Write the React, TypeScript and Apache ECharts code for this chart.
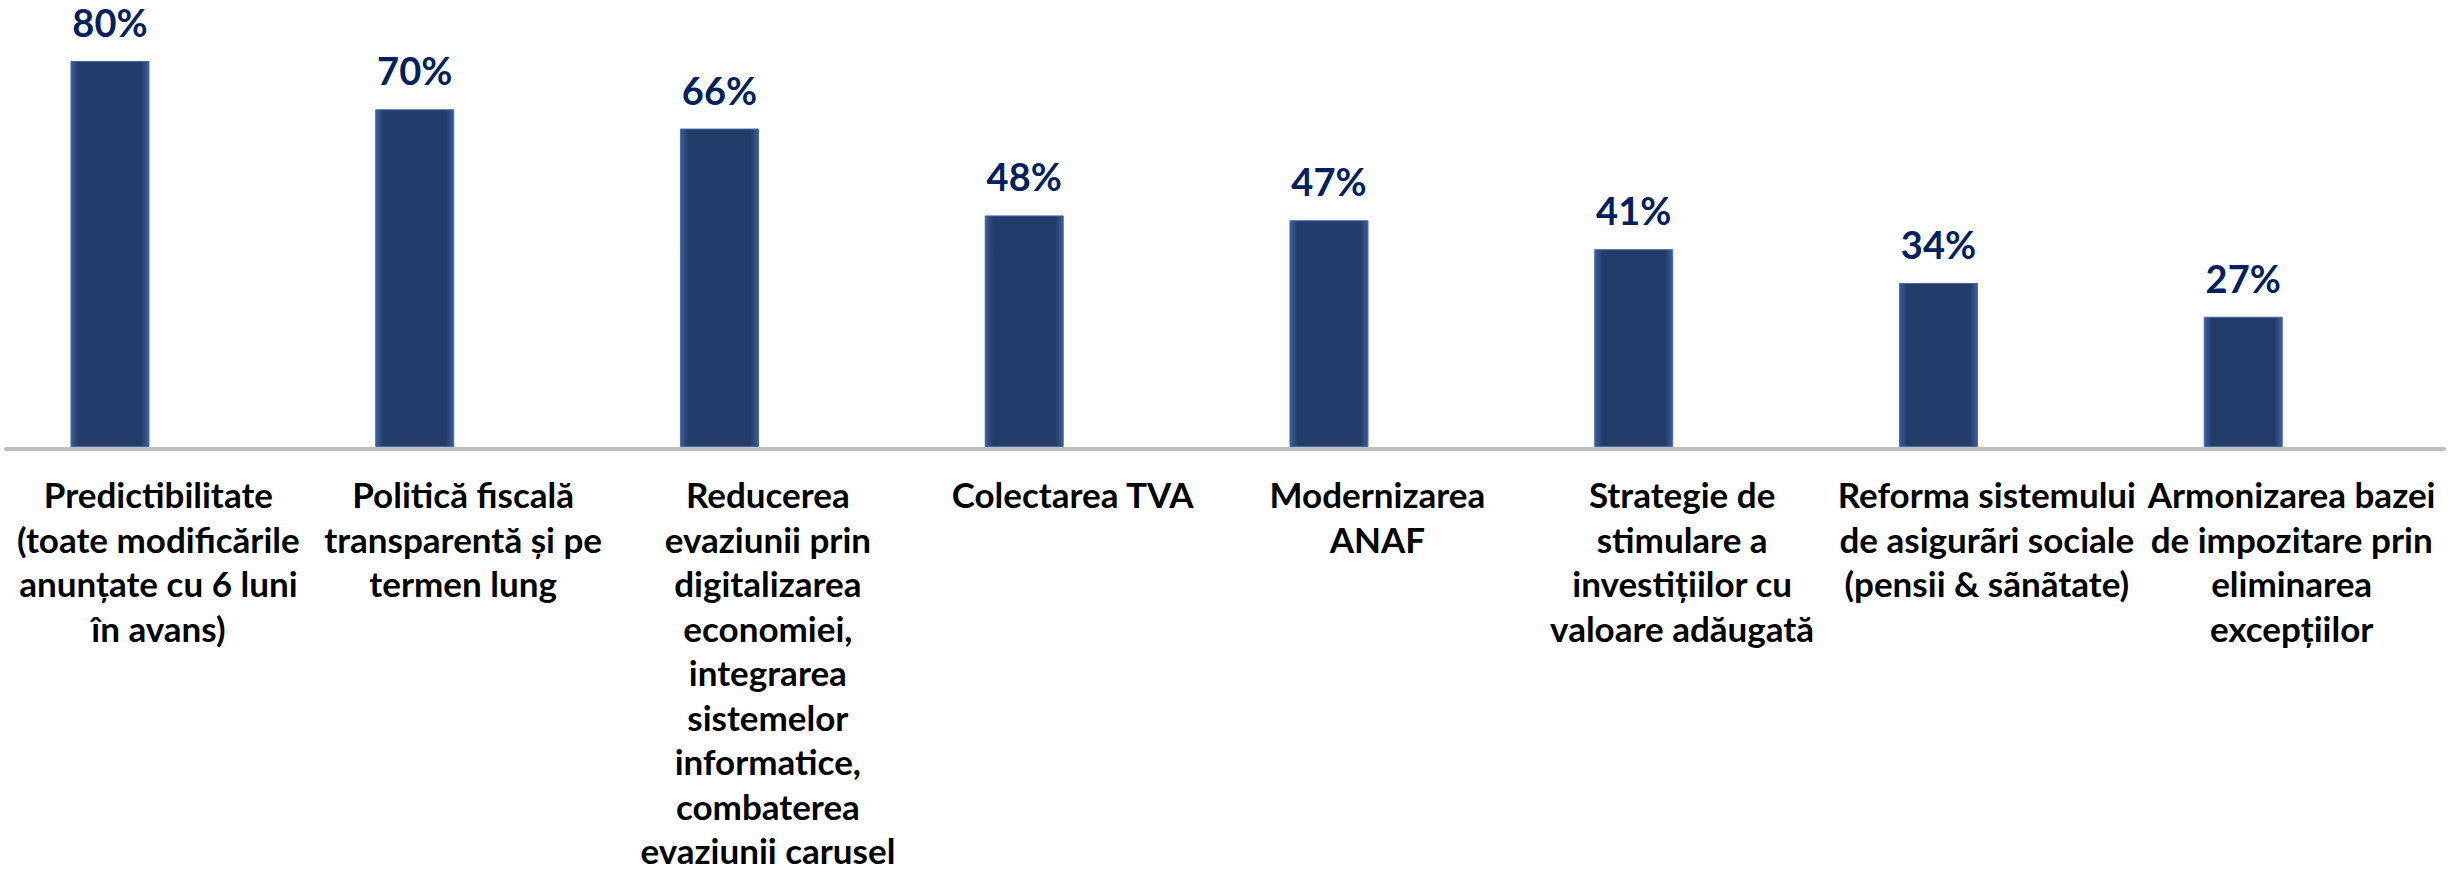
import { useEffect, useRef } from "react";
import * as echarts from "echarts";

const categories: string[] = [
  "Predictibilitate\n(toate modificările\nanunțate cu 6 luni\nîn avans)",
  "Politică fiscală\ntransparentă și pe\ntermen lung",
  "Reducerea\nevaziunii prin\ndigitalizarea\neconomiei,\nintegrarea\nsistemelor\ninformatice,\ncombaterea\nevaziunii carusel",
  "Colectarea TVA",
  "Modernizarea\nANAF",
  "Strategie de\nstimulare a\ninvestițiilor cu\nvaloare adăugată",
  "Reforma sistemului\nde asigurãri sociale\n(pensii & sãnãtate)",
  "Armonizarea bazei\nde impozitare prin\neliminarea\nexcepțiilor",
];

const values: number[] = [80, 70, 66, 48, 47, 41, 34, 27];

const FONT = "Lato, 'Open Sans', sans-serif";

export default function App() {
  const ref = useRef<HTMLDivElement>(null);

  useEffect(() => {
    if (!ref.current) return;
    const chart = echarts.init(ref.current, undefined, { renderer: "svg" });
    const barShift = 48.4;
    chart.setOption({
      animation: false,
      backgroundColor: "#ffffff",
      grid: [
        {
          left: 6 - barShift,
          right: 9 + barShift,
          top: 61,
          bottom: 429,
          outerBoundsMode: "none",
          containLabel: false,
        },
        {
          left: 6,
          right: 9,
          top: 61,
          bottom: 427,
          outerBoundsMode: "none",
          containLabel: false,
        },
      ],
      xAxis: [
        {
          type: "category",
          gridIndex: 0,
          data: categories,
          axisLine: { show: false },
          axisTick: { show: false },
          axisLabel: { show: false },
          splitLine: { show: false },
        },
        {
          type: "category",
          gridIndex: 1,
          data: categories,
          axisLine: { show: true, lineStyle: { color: "#BFBFBF", width: 4 } },
          axisTick: { show: false },
          splitLine: { show: false },
          axisLabel: {
            show: true,
            interval: 0,
            margin: 23,
            color: "#000000",
            fontFamily: FONT,
            fontWeight: "bold",
            fontSize: 35,
            lineHeight: 44.5,
            align: "center",
          },
          z: 1,
        },
      ],
      yAxis: [
        {
          type: "value",
          gridIndex: 0,
          min: 0,
          max: 80,
          show: false,
          splitLine: { show: false },
        },
        {
          type: "value",
          gridIndex: 1,
          show: false,
          splitLine: { show: false },
        },
      ],
      series: [
        {
          type: "bar",
          xAxisIndex: 0,
          yAxisIndex: 0,
          data: values,
          barWidth: 79,
          z: 3,
          itemStyle: {
            color: new echarts.graphic.LinearGradient(0, 0, 1, 0, [
              { offset: 0, color: "#3C5E9E" },
              { offset: 0.1, color: "#243C6A" },
              { offset: 0.9, color: "#243C6A" },
              { offset: 1, color: "#3C5E9E" },
            ]),
            borderColor: "#4767A6",
            borderWidth: 1,
          },
          label: {
            show: true,
            position: "top",
            distance: 20,
            formatter: "{c}%",
            color: "#002060",
            fontFamily: FONT,
            fontWeight: "bold",
            fontSize: 38,
          },
        },
      ],
    });
    return () => chart.dispose();
  }, []);

  return (
    <div
      ref={ref}
      style={{ position: "absolute", left: 0, top: 0, width: 2453, height: 876 }}
    />
  );
}
